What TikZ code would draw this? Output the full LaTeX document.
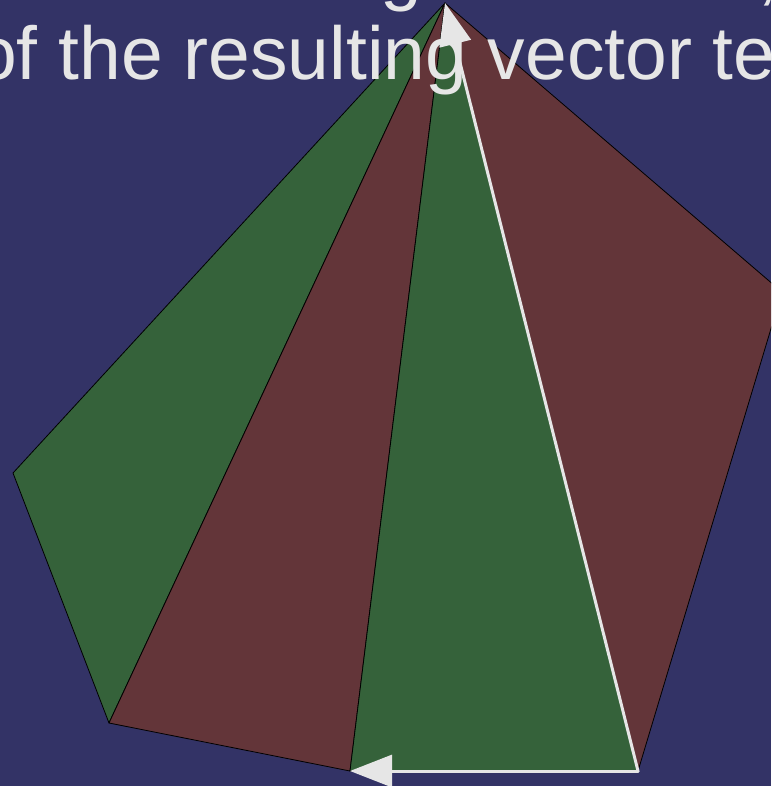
\documentclass[tikz,border=0pt]{standalone}
\usepackage{fontspec}
\setmainfont{Liberation Sans}
\usetikzlibrary{arrows.meta}
\definecolor{slideblue}{HTML}{333366}
\definecolor{facegreen}{HTML}{35623A}
\definecolor{facered}{HTML}{633539}
\definecolor{chalk}{HTML}{E6E6E6}

\begin{document}
\begin{tikzpicture}[
  x=1pt, y=-1pt,
  >={Triangle[length=42pt, width=32pt]},
  face/.style={draw=black, line width=0.8pt, line join=round},
  vec/.style={->, draw=chalk, fill=chalk, line width=3pt, line cap=round},
  caption/.style={
    text=chalk, inner sep=0pt, anchor=base west,
    font=\fontsize{75}{85}\selectfont
  },
]

% Slide background
\fill[slideblue] (0,0) rectangle (771,786);
\useasboundingbox (0,0) rectangle (771,786);
\clip (0,0) rectangle (771,786);

% Corners of the fan
\coordinate (apex) at (445,3);
\coordinate (west) at (13,473);
\coordinate (southwest) at (109,723);
\coordinate (south) at (350,771);
\coordinate (southeast) at (638,771);
\coordinate (east) at (782,292);

% Triangles
\filldraw[face, fill=facegreen] (apex) -- (west) -- (southwest) -- cycle;
\filldraw[face, fill=facered] (apex) -- (southwest) -- (south) -- cycle;
\filldraw[face, fill=facegreen] (apex) -- (south) -- (southeast) -- cycle;
\filldraw[face, fill=facered] (apex) -- (southeast) -- (east) -- cycle;

% Caption text
\node[caption] (gtail) at (380,-3) {g};
\node[caption] (commatail) at (757,-3) {,};
\node[caption] (caption) at (-25,80) {of the resulting vector te};

% Vectors
\draw[vec] (southeast) -- (south);
\draw[vec] (southeast) -- (apex);

\end{tikzpicture}
\end{document}
